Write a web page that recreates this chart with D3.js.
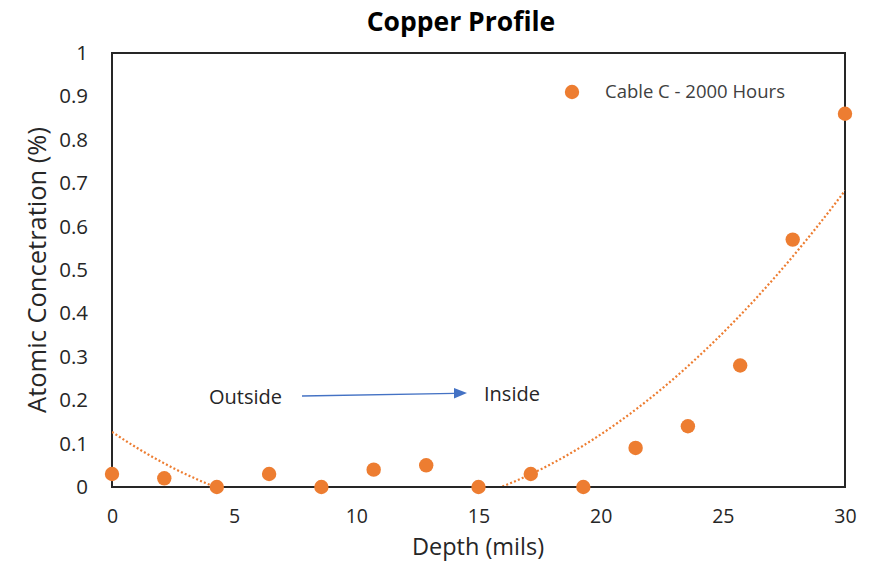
<!DOCTYPE html>
<html>
<head>
<meta charset="utf-8">
<script src="https://cdn.jsdelivr.net/npm/d3@7"></script>
<style>
  html, body { margin: 0; padding: 0; background: #fff; }
  svg { display: block; }
</style>
</head>
<body>
<svg id="chart" width="871" height="563"></svg>
<script>
// Depth (mils) of each measurement and the copper concentration found there
const depths = [0, 2.14, 4.29, 6.43, 8.57, 10.71, 12.86, 15, 17.14, 19.29, 21.43, 23.57, 25.71, 27.86, 30];
const copper = [0.03, 0.02, 0, 0.03, 0, 0.04, 0.05, 0, 0.03, 0, 0.09, 0.14, 0.28, 0.57, 0.86];
const xTicks = [0, 5, 10, 15, 20, 25, 30];
const yTicks = [0, 0.1, 0.2, 0.3, 0.4, 0.5, 0.6, 0.7, 0.8, 0.9, 1];
const seriesName = "Cable C - 2000 Hours";

const orange = "#ED7D31";
const textColor = "#262626";
const font = "'Open Sans', sans-serif";
const svg = d3.select("#chart");
const plot = { left: 112, right: 845, top: 53, bottom: 487 };

const x = d3.scaleLinear().domain([0, 30]).range([plot.left, plot.right]);
const y = d3.scaleLinear().domain([0, 1]).range([plot.bottom, plot.top]);

// Title
svg.append("text")
  .attr("x", 461).attr("y", 31)
  .attr("text-anchor", "middle")
  .attr("font-family", font)
  .attr("font-weight", "bold")
  .attr("font-size", 26.5)
  .attr("fill", "#000")
  .text("Copper Profile");

// Axes (labels only, no tick marks)
const xAxis = svg.append("g")
  .attr("transform", `translate(0,${plot.bottom})`)
  .call(d3.axisBottom(x).tickValues(xTicks).tickSize(0).tickPadding(22).tickFormat(d3.format("d")));
const yAxis = svg.append("g")
  .attr("transform", `translate(${plot.left},0)`)
  .call(d3.axisLeft(y).tickValues(yTicks).tickSize(0).tickPadding(24)
    .tickFormat(d => d === 0 || d === 1 ? String(d) : d3.format(".1f")(d)));
xAxis.selectAll("text").attr("font-size", 19.5);
yAxis.selectAll("text").attr("font-size", 20.5);
[xAxis, yAxis].forEach(g => {
  g.select(".domain").remove();
  g.selectAll("text").attr("font-family", font).attr("fill", textColor);
});

// Plot frame
svg.append("rect")
  .attr("x", plot.left).attr("y", plot.top)
  .attr("width", plot.right - plot.left).attr("height", plot.bottom - plot.top)
  .attr("fill", "none").attr("stroke", textColor).attr("stroke-width", 2);

// Axis titles
svg.append("text")
  .attr("x", 478).attr("y", 555)
  .attr("text-anchor", "middle")
  .attr("font-family", font).attr("font-size", 23.5).attr("fill", textColor)
  .text("Depth (mils)");
svg.append("text")
  .attr("transform", `translate(46,270) rotate(-90)`)
  .attr("text-anchor", "middle")
  .attr("font-family", font).attr("font-size", 25.5).attr("fill", textColor)
  .text("Atomic Concetration (%)");

// Second-order polynomial least-squares trendline
function quadFit(xs, ys) {
  const n = xs.length;
  const s = [0, 0, 0, 0, 0], t = [0, 0, 0];
  for (let i = 0; i < n; i++) {
    let p = 1;
    for (let k = 0; k <= 4; k++) { s[k] += p; if (k <= 2) t[k] += p * ys[i]; p *= xs[i]; }
  }
  const M = [[s[0], s[1], s[2], t[0]], [s[1], s[2], s[3], t[1]], [s[2], s[3], s[4], t[2]]];
  for (let c = 0; c < 3; c++) {
    for (let r = c + 1; r < 3; r++) {
      const f = M[r][c] / M[c][c];
      for (let k = c; k < 4; k++) M[r][k] -= f * M[c][k];
    }
  }
  const coef = [0, 0, 0];
  for (let r = 2; r >= 0; r--) {
    let v = M[r][3];
    for (let k = r + 1; k < 3; k++) v -= M[r][k] * coef[k];
    coef[r] = v / M[r][r];
  }
  return xv => coef[0] + coef[1] * xv + coef[2] * xv * xv;
}
const fit = quadFit(depths, copper);
const trend = d3.range(0, 30.001, 0.1).map(d => [d, fit(d)]);

svg.append("clipPath").attr("id", "plotClip")
  .append("rect")
  .attr("x", plot.left).attr("y", plot.top)
  .attr("width", plot.right - plot.left).attr("height", plot.bottom - plot.top - 1);

svg.append("path")
  .datum(trend)
  .attr("clip-path", "url(#plotClip)")
  .attr("fill", "none")
  .attr("stroke", orange)
  .attr("stroke-width", 2.2)
  .attr("stroke-dasharray", "2,2.2")
  .attr("d", d3.line().x(d => x(d[0])).y(d => y(d[1])));

// Data markers
svg.append("g").selectAll("circle")
  .data(depths.map((d, i) => [d, copper[i]]))
  .join("circle")
  .attr("cx", d => x(d[0]))
  .attr("cy", d => y(d[1]))
  .attr("r", 7.2)
  .attr("fill", orange);

// Legend
svg.append("circle").attr("cx", 572).attr("cy", 92).attr("r", 7.2).attr("fill", orange);
svg.append("text")
  .attr("x", 605).attr("y", 98)
  .attr("font-family", font).attr("font-size", 18.5).attr("fill", "#404040")
  .text(seriesName);

// Direction annotation
const blue = "#4472C4";
svg.append("text")
  .attr("x", 209).attr("y", 404)
  .attr("font-family", font).attr("font-size", 20).attr("fill", textColor)
  .text("Outside");
svg.append("text")
  .attr("x", 484).attr("y", 401)
  .attr("font-family", font).attr("font-size", 20).attr("fill", textColor)
  .text("Inside");
svg.append("line")
  .attr("x1", 302).attr("y1", 396).attr("x2", 455).attr("y2", 393.3)
  .attr("stroke", blue).attr("stroke-width", 1.3);
svg.append("path")
  .attr("d", "M454,388 L467,393 L454,398.5 Z")
  .attr("fill", blue);
</script>
</body>
</html>
